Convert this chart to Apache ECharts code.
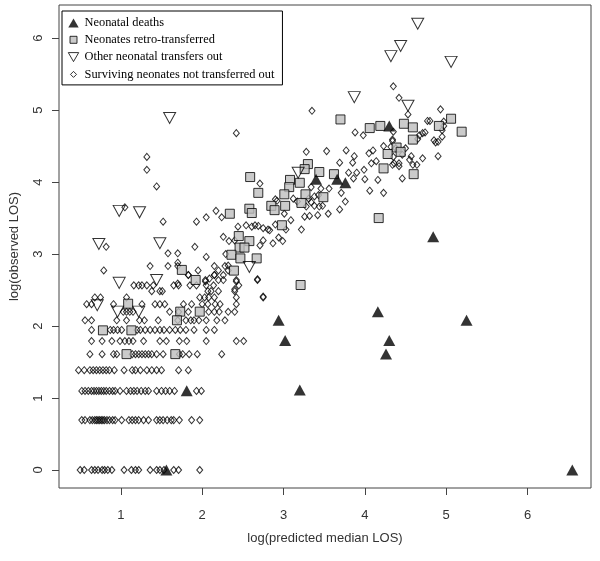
<!DOCTYPE html>
<html>
<head>
<meta charset="utf-8">
<script src="https://cdn.jsdelivr.net/npm/echarts@6/dist/echarts.min.js"></script>
<style>html,body{margin:0;padding:0;background:#fff}#c{width:600px;height:561px}</style>
</head>
<body>
<div id="c"></div>
<script>
// Tick labels
const xTicks = [1, 2, 3, 4, 5, 6];
const yTicks = [0, 1, 2, 3, 4, 5, 6];

// Surviving neonates: discrete low-LOS rows (y = log days) with x positions
const rowY = [0, 0.693, 1.099, 1.386, 1.609, 1.792, 1.946, 2.079, 2.197, 2.303, 2.398, 2.485, 2.565, 2.639, 2.708, 2.773, 2.833];
const rowX = [
  [0.50,0.55,0.64,0.68,0.72,0.77,0.80,0.84,0.89,1.04,1.13,1.18,1.22,1.36,1.44,1.48,1.53,1.65,1.71,1.97],
  [0.52,0.56,0.62,0.65,0.68,0.70,0.72,0.74,0.76,0.78,0.80,0.83,0.86,0.90,0.93,1.01,1.10,1.14,1.18,1.22,1.28,1.34,1.44,1.48,1.52,1.57,1.62,1.65,1.72,1.87,1.97],
  [0.52,0.56,0.60,0.64,0.67,0.70,0.73,0.76,0.79,0.82,0.86,0.90,0.93,0.99,1.07,1.12,1.16,1.20,1.25,1.30,1.34,1.44,1.50,1.55,1.60,1.66,1.93,1.99],
  [0.48,0.55,0.62,0.66,0.70,0.74,0.78,0.82,0.86,0.92,1.04,1.14,1.18,1.24,1.32,1.38,1.44,1.50,1.71,1.83],
  [0.62,0.77,0.91,0.95,1.14,1.18,1.22,1.26,1.30,1.34,1.38,1.44,1.52,1.72,1.76,1.84,1.94,2.24],
  [0.64,0.77,0.89,0.99,1.05,1.10,1.15,1.28,1.48,1.56,1.72,1.81,2.05,2.42,2.51],
  [0.64,0.87,0.91,0.96,1.01,1.20,1.24,1.30,1.36,1.42,1.48,1.53,1.60,1.67,1.73,1.80,1.90,2.05,2.15],
  [0.56,0.64,0.95,1.07,1.23,1.29,1.46,1.70,1.80,1.86,1.90,1.96,2.05,2.18,2.28],
  [1.03,1.07,1.11,1.15,1.60,1.71,1.83,2.08,2.15,2.21,2.32,2.40],
  [0.58,0.64,0.91,1.26,1.42,1.48,1.54,1.77,1.87,2.00,2.07,2.16,2.22,2.42],
  [0.68,0.75,1.07,1.97,2.03,2.08,2.15,2.42,2.75],
  [1.38,1.48,1.51,2.07,2.11,2.20,2.40],
  [1.16,1.22,1.26,1.32,1.40,1.65,1.71,1.85,1.93,2.05,2.14,2.45],
  [2.04,2.20,2.26,2.42,2.68],
  [1.83,2.15,2.26],
  [0.79,1.95,2.20,2.32],
  [1.36,1.58,1.70,2.15,2.28]
];
// Surviving neonates: scattered points at higher LOS
const survivorPts = [
  [1.52,3.45],[1.91,3.10],[1.93,3.45],[1.58,3.01],[1.70,3.01],[1.70,2.88],[2.05,2.96],[2.29,3.00],[2.32,2.84],[2.26,3.24],
  [2.33,3.18],[2.40,3.19],[2.44,3.38],[2.54,3.40],[2.61,3.38],[2.65,3.40],[2.69,3.39],[2.75,3.36],[2.83,3.33],[2.75,3.19],
  [2.87,3.15],[2.94,3.23],[2.99,3.18],[2.71,3.12],[2.90,3.41],[3.22,3.34],[3.09,3.47],[3.01,3.56],[2.17,3.60],[2.24,3.51],
  [2.05,3.51],[2.92,3.74],[2.90,3.76],[3.12,3.77],[3.17,3.73],[3.31,3.77],[3.34,3.72],[3.28,3.66],[3.38,3.67],[3.44,3.66],
  [3.48,3.67],[3.76,3.73],[3.69,3.62],[3.55,3.56],[3.42,3.54],[3.32,3.53],[3.26,3.52],[3.38,3.80],[3.43,3.82],[3.71,3.85],
  [4.06,3.88],[4.23,3.85],[3.56,3.91],[3.46,3.91],[3.34,3.93],[2.71,3.98],[3.86,4.05],[4.00,4.04],[4.16,4.03],[3.99,4.17],
  [3.80,4.13],[3.90,4.13],[3.69,4.27],[3.85,4.27],[4.08,4.26],[4.14,4.29],[4.34,4.24],[4.42,4.26],[3.28,4.42],[3.53,4.43],
  [3.77,4.44],[3.87,4.36],[4.10,4.44],[4.05,4.40],[4.35,4.35],[4.23,4.50],[4.34,4.57],[4.35,4.70],[3.98,4.65],[3.88,4.69],
  [2.42,4.68],[3.35,4.99],[4.35,5.33],[4.42,5.17],[4.53,4.94],[4.93,5.01],[4.77,4.85],[4.80,4.85],[4.97,4.84],[4.95,4.72],
  [4.97,4.78],[4.67,4.65],[4.71,4.68],[4.74,4.69],[4.95,4.63],[4.85,4.58],[4.90,4.56],[4.87,4.55],[4.34,4.59],[4.32,4.49],
  [4.38,4.47],[4.50,4.47],[4.46,4.38],[4.65,4.60],[4.57,4.36],[4.55,4.31],[4.71,4.33],[4.90,4.36],[4.36,4.26],[4.42,4.22],
  [4.59,4.24],[4.64,4.24],[4.46,4.05],[1.32,4.35],[1.32,4.17],[1.44,3.94],[1.05,3.65],[0.82,3.10],[1.83,2.71],[1.70,2.59],
  [2.09,2.66],[2.04,2.62],[2.15,2.71],[2.68,2.65],[2.75,2.41],[2.42,2.62],[2.40,2.51],[3.03,3.34],[2.81,3.34]
];

// Neonates retro-transferred
const retroPts = [
  [3.70,4.87],[4.06,4.75],[4.19,4.78],[4.39,4.48],[4.28,4.39],[4.23,4.19],[4.44,4.42],[3.30,4.25],[3.26,4.18],[3.44,4.14],
  [3.62,4.11],[2.59,4.07],[3.08,4.03],[3.20,3.99],[3.07,3.93],[2.69,3.85],[3.01,3.83],[3.27,3.83],[3.49,3.79],[3.22,3.71],
  [3.02,3.67],[2.85,3.67],[2.89,3.61],[2.58,3.63],[2.61,3.57],[2.34,3.56],[4.17,3.50],[2.98,3.40],[2.45,3.25],[2.58,3.18],
  [2.46,3.09],[2.52,3.09],[2.36,2.99],[2.47,2.94],[2.67,2.94],[2.39,2.77],[3.21,2.57],[4.48,4.81],[4.59,4.76],[5.06,4.88],
  [4.91,4.78],[5.19,4.70],[4.59,4.59],[4.60,4.11],[1.75,2.78],[1.92,2.64],[1.73,2.20],[1.97,2.20],[1.09,2.31],[0.78,1.94],
  [1.13,1.94],[1.07,1.61],[1.67,1.61],[1.69,2.08]
];

// Other neonatal transfers out
const otherPts = [
  [0.73,3.14],[0.98,3.60],[1.23,3.58],[1.48,3.15],[1.44,2.64],[0.98,2.60],[0.71,2.29],[0.96,2.20],[1.22,2.20],[1.60,4.89],
  [2.58,2.82],[3.18,4.13],[4.65,6.20],[4.44,5.89],[4.32,5.75],[5.06,5.67],[4.53,5.06],[3.87,5.18]
];

// Neonatal deaths
const deathPts = [
  [1.56,0],[1.81,1.10],[2.94,2.08],[3.02,1.80],[3.20,1.11],[4.16,2.20],[4.26,1.61],[4.30,1.80],[4.84,3.24],[5.25,2.08],
  [6.55,0],[4.30,4.78],[3.40,4.04],[3.66,4.04],[3.76,3.99]
];

const survivorData = [];
rowY.forEach((y, i) => rowX[i].forEach(x => survivorData.push([x, y])));
survivorPts.forEach(p => survivorData.push(p));

const invTri = 'path://M0,0 L10,0 L5,9 Z';
// legend icons padded inside a 12x12 box so they keep their relative sizes
const lgTri = 'path://M0,0M12,12M6,1.5L11.2,10.5L0.8,10.5Z';
const lgRect = 'path://M0,0M12,12M2.5,2.5L9.5,2.5L9.5,9.5L2.5,9.5Z';
const lgInv = 'path://M0,0M12,12M0.8,1.5L11.2,1.5L6,10.5Z';
const lgDia = 'path://M0,0M12,12M6,3L9,6L6,9L3,6Z';
const names = ['Neonatal deaths', 'Neonates retro-transferred', 'Other neonatal transfers out', 'Surviving neonates not transferred out'];

const chart = echarts.init(document.getElementById('c'), null, {renderer: 'canvas'});
const axisFont = {fontFamily: 'Liberation Sans, Arial, sans-serif', fontSize: 13, color: '#333'};
chart.setOption({
  animation: false,
  backgroundColor: '#fff',
  grid: {left: 57, right: 9, top: 5, bottom: 73, show: true, borderColor: '#444', borderWidth: 1, backgroundColor: 'transparent'},
  xAxis: {
    type: 'value', min: 0.24, max: 6.78,
    name: 'log(predicted median LOS)', nameLocation: 'middle', nameGap: 44,
    nameTextStyle: axisFont,
    axisLine: {show: false, onZero: false},
    axisTick: {show: true, length: 7, lineStyle: {color: '#444'}, customValues: xTicks},
    axisLabel: Object.assign({customValues: xTicks, margin: 21}, axisFont),
    splitLine: {show: false}
  },
  yAxis: {
    type: 'value', min: -0.25, max: 6.46,
    name: 'log(observed LOS)', nameLocation: 'middle', nameGap: 38, nameRotate: 90,
    nameTextStyle: axisFont,
    axisLine: {show: false, onZero: false},
    axisTick: {show: true, length: 7, lineStyle: {color: '#444'}, customValues: yTicks},
    axisLabel: Object.assign({customValues: yTicks, margin: 14, rotate: 90}, axisFont),
    splitLine: {show: false}
  },
  legend: {
    orient: 'vertical', left: 62, top: 11,
    padding: [6, 8, 4, 5], itemGap: 4.3, itemWidth: 12, itemHeight: 12,
    borderColor: '#000', borderWidth: 1, backgroundColor: '#fff',
    textStyle: {fontFamily: 'Liberation Serif, Times New Roman, serif', fontSize: 12.4, color: '#000'},
    data: [
      {name: names[0], icon: lgTri, itemStyle: {color: '#000'}},
      {name: names[1], icon: lgRect, itemStyle: {color: '#bebebe', borderColor: '#000', borderWidth: 1}},
      {name: names[2], icon: lgInv, itemStyle: {color: '#fff', borderColor: '#000', borderWidth: 1}},
      {name: names[3], icon: lgDia, itemStyle: {color: '#fff', borderColor: '#000', borderWidth: 1}}
    ]
  },
  series: [
    {name: names[3], type: 'scatter', data: survivorData, symbol: 'diamond', symbolSize: [6, 7], z: 2,
     itemStyle: {color: 'rgba(255,255,255,0)', borderColor: '#000', borderWidth: 1}},
    {name: names[1], type: 'scatter', data: retroPts, symbol: 'rect', symbolSize: 9, z: 3,
     itemStyle: {color: '#bebebe', borderColor: '#000', borderWidth: 1}},
    {name: names[2], type: 'scatter', data: otherPts, symbol: invTri, symbolSize: [12, 11], z: 4,
     itemStyle: {color: 'rgba(255,255,255,0)', borderColor: '#000', borderWidth: 1}},
    {name: names[0], type: 'scatter', data: deathPts, symbol: 'triangle', symbolSize: [12, 11], z: 5,
     itemStyle: {color: '#000'}}
  ]
});
</script>
</body>
</html>
